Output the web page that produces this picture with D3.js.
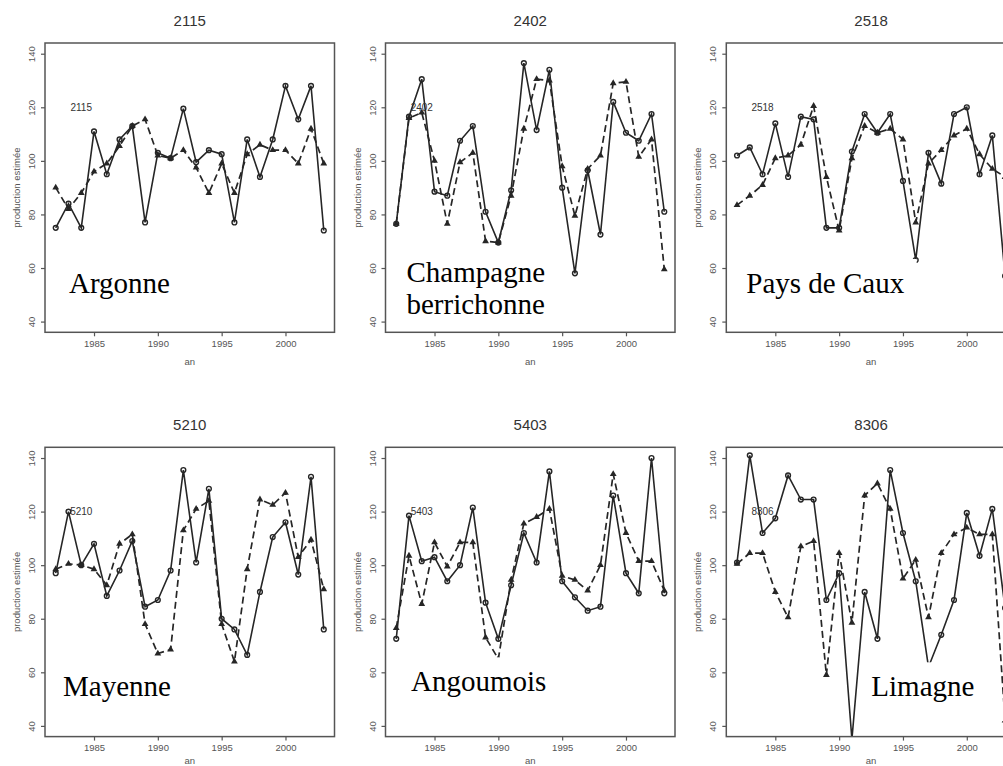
<!DOCTYPE html>
<html>
<head>
<meta charset="utf-8">
<script src="https://cdn.jsdelivr.net/npm/d3@7"></script>
<style>
  body { margin: 0; background: #fff; }
  svg { display: block; }
</style>
</head>
<body>
<script>
var w = 1003;
var h = 766;

// data
var years = [1982, 1983, 1984, 1985, 1986, 1987, 1988, 1989, 1990, 1991, 1992,
             1993, 1994, 1995, 1996, 1997, 1998, 1999, 2000, 2001, 2002, 2003];
var codes = ["2115", "2402", "2518", "5210", "5403", "8306"];
var regions = ["Argonne", "Champagne\nberrichonne", "Pays de Caux", "Mayenne", "Angoumois", "Limagne"];
var xTicks = [1985, 1990, 1995, 2000];
var yTicks = [40, 60, 80, 100, 120, 140];
var yLimits = [40, 140];
var codeAt = [1984, 120];   // where the code is written inside each panel

// solid line (circles) and dashed line (triangles)
var argonneLine   = [75, 84, 75, 111, 95, 108, 113, 77, 103, 101, 119.5, 99.5, 104, 102.5, 77, 108, 94, 108, 128, 115.5, 128, 74];
var argonneDash   = [90, 82, 88, 96, 99, 105.5, 113, 115.5, 102, 101, 104, 97.5, 88, 99, 88, 102.5, 106, 104, 104, 99, 112, 99];
var champagneLine = [76.5, 116.5, 130.5, 88.5, 87, 107.5, 113, 81, 69.5, 89, 136.5, 111.5, 134, 90, 58, 96.5, 72.5, 122, 110.5, 107.5, 117.5, 81];
var champagneDash = [76.5, 116, 118, 100, 76.5, 99.5, 103, 70, 69.5, 87, 112, 130.5, 130, 98, 79.5, 97, 102, 129, 129.5, 101.5, 108, 59.5];
var cauxLine      = [102, 105, 95, 114, 94, 116.5, 115.5, 75, 75, 103.5, 117.5, 110.5, 117.5, 92.5, 63, 103, 91.5, 117.5, 120, 95, 109.5, 57];
var cauxDash      = [83.5, 87, 91, 101, 102, 106, 120.5, 94, 74, 101, 113, 110.5, 112, 108, 77, 99, 104, 109.5, 112, 102.5, 97, 94];
var mayenneLine   = [97, 120, 100, 108, 88.5, 98, 109, 84.5, 87, 98, 135.5, 101, 128.5, 80, 76, 66.5, 90, 110.5, 116, 96.5, 133, 76];
var mayenneDash   = [98.5, 100.5, 100, 98.5, 92.5, 108, 111.5, 78, 67, 68.5, 113, 121, 124, 78, 64, 98.5, 124.5, 122.5, 127, 103, 109.5, 91];
var angoumoisLine = [72.5, 118.5, 101.5, 103, 94, 100, 121.5, 86, 72.5, 92.5, 112, 101, 135, 94, 88, 83, 84.5, 126, 97, 89.5, 140, 89.5];
var angoumoisDash = [76.5, 103.5, 85.5, 108.5, 99.5, 108.5, 108.5, 73, 65, 94.5, 115.5, 118, 121, 96, 94.5, 90.5, 100, 134, 112, 101.5, 101.5, 90.5];
var limagneLine   = [101, 141, 112, 117.5, 133.5, 124.5, 124.5, 87, 97, 35, 90, 72.5, 135.5, 112, 94, 62, 74, 87, 119.5, 103.5, 121, 84];
var limagneDash   = [100.5, 104.5, 104.5, 90, 80.5, 107, 109, 59, 104.5, 78.5, 126, 130.5, 121, 95, 102, 80.5, 104.5, 111.5, 114, 111.5, 111.5, 42];

var solidSeries  = [argonneLine, champagneLine, cauxLine, mayenneLine, angoumoisLine, limagneLine];
var dashedSeries = [argonneDash, champagneDash, cauxDash, mayenneDash, angoumoisDash, limagneDash];

// layout
var panelW = 289.5;
var panelH = 289.3;
var colX = [45, 385.5, 726.3];
var rowY = [43, 447.3];
// region label: x offset, first baseline (px inside the panel)
var labelPos = [[24, 250], [21, 239], [20, 250], [18, 249], [25.5, 244], [145, 249]];

var ink = "#262626";
var axisInk = "#555";
var sans = "'Liberation Sans', Arial, Helvetica, sans-serif";

var svg = d3.select("body").append("svg")
  .attr("width", w)
  .attr("height", h)
  .style("background-color", "white");

// R style 4% padding around the data range
var xr = d3.extent(years);
var xPad = (xr[1] - xr[0]) * 0.04;
var yPad = (yLimits[1] - yLimits[0]) * 0.04;

var xScale = d3.scaleLinear()
  .domain([xr[0] - xPad, xr[1] + xPad])
  .range([0, panelW]);
var yScale = d3.scaleLinear()
  .domain([yLimits[0] - yPad, yLimits[1] + yPad])
  .range([panelH, 0]);

svg.append("defs").append("clipPath")
  .attr("id", "plotclip")
  .append("rect")
  .attr("width", panelW)
  .attr("height", panelH);

function draw() {
  var panels = svg.selectAll("g.panel")
    .data(codes)
    .join("g")
    .attr("class", "panel")
    .attr("transform", function(d, i) {
      return "translate(" + colX[i % 3] + "," + rowY[Math.floor(i / 3)] + ")";
    });

  panels.each(function(code, i) {
    var g = d3.select(this);
    var top = rowY[Math.floor(i / 3)];

    // title
    g.append("text")
      .attr("x", panelW / 2)
      .attr("y", -17)
      .attr("text-anchor", "middle")
      .style("font-family", sans)
      .style("font-size", "15px")
      .style("fill", "#333")
      .text(code);

    // axes
    var xAxis = g.append("g")
      .attr("transform", "translate(0," + panelH + ")")
      .call(d3.axisBottom(xScale).tickValues(xTicks).tickSize(4).tickPadding(4).tickFormat(d3.format("d")));
    var yAxis = g.append("g")
      .call(d3.axisLeft(yScale).tickValues(yTicks).tickSize(4));

    [xAxis, yAxis].forEach(function(a) {
      a.select(".domain").remove();
      a.selectAll("line").attr("stroke", axisInk).attr("stroke-width", 1.2);
      a.selectAll("text")
        .style("font-family", sans)
        .style("font-size", "9.5px")
        .attr("fill", axisInk);
    });
    yAxis.selectAll("text")
      .attr("x", 0)
      .attr("dy", null)
      .attr("text-anchor", "middle")
      .attr("transform", "translate(-10,0) rotate(-90)");

    // bottom row "an" sits at the very edge of the picture; keep it inside
    g.append("text")
      .attr("x", panelW / 2)
      .attr("y", Math.min(panelH + 33, h - top - 2))
      .attr("text-anchor", "middle")
      .style("font-family", sans)
      .style("font-size", "9.5px")
      .style("fill", axisInk)
      .text("an");

    g.append("text")
      .attr("transform", "translate(-25," + (panelH / 2) + ") rotate(-90)")
      .attr("text-anchor", "middle")
      .style("font-family", sans)
      .style("font-size", "9.5px")
      .style("fill", axisInk)
      .text("production estimée");

    // series
    var plot = g.append("g").attr("clip-path", "url(#plotclip)");

    var line = d3.line()
      .x(function(d, k) { return xScale(years[k]); })
      .y(function(d) { return yScale(d); });

    plot.append("path")
      .datum(dashedSeries[i])
      .attr("d", line)
      .attr("fill", "none")
      .attr("stroke", ink)
      .attr("stroke-width", 1.7)
      .attr("stroke-dasharray", "7,4");

    plot.append("path")
      .datum(solidSeries[i])
      .attr("d", line)
      .attr("fill", "none")
      .attr("stroke", ink)
      .attr("stroke-width", 1.6);

    plot.selectAll("path.tri")
      .data(dashedSeries[i])
      .join("path")
      .attr("class", "tri")
      .attr("d", d3.symbol().type(d3.symbolTriangle).size(20))
      .attr("transform", function(d, k) {
        return "translate(" + xScale(years[k]) + "," + yScale(d) + ")";
      })
      .attr("fill", ink);

    plot.selectAll("circle")
      .data(solidSeries[i])
      .join("circle")
      .attr("cx", function(d, k) { return xScale(years[k]); })
      .attr("cy", function(d) { return yScale(d); })
      .attr("r", 2.4)
      .attr("fill", "none")
      .attr("stroke", ink)
      .attr("stroke-width", 1.4);

    // code written in the plot
    g.append("text")
      .attr("x", xScale(codeAt[0]))
      .attr("y", yScale(codeAt[1]))
      .attr("dy", "0.35em")
      .attr("text-anchor", "middle")
      .style("font-family", sans)
      .style("font-size", "10px")
      .style("fill", "#333")
      .text(code);

    // region name, in a white box laid over the plot
    var boxG = g.append("g");
    var bg = boxG.append("rect").attr("fill", "white");
    var label = boxG.append("text")
      .attr("x", labelPos[i][0])
      .attr("y", labelPos[i][1])
      .style("font-family", "'Liberation Serif', 'Times New Roman', serif")
      .style("font-size", "29px")
      .style("fill", "black");
    label.selectAll("tspan")
      .data(regions[i].split("\n"))
      .join("tspan")
      .attr("x", labelPos[i][0])
      .attr("dy", function(d, k) { return k === 0 ? 0 : 31.6; })
      .text(function(d) { return d; });

    var bb = label.node().getBBox();
    bg.attr("x", bb.x - 6)
      .attr("y", bb.y - 8)
      .attr("width", bb.width + 18)
      .attr("height", bb.height + 12);

    // frame
    g.append("rect")
      .attr("width", panelW)
      .attr("height", panelH)
      .attr("fill", "none")
      .attr("stroke", axisInk)
      .attr("stroke-width", 1.5);
  });
}

draw();
</script>
</body>
</html>
